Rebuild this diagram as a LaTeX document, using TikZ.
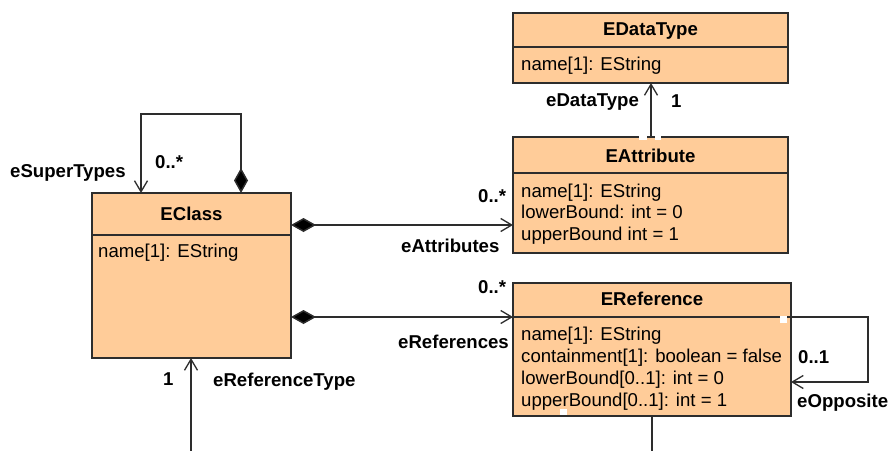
\documentclass[tikz,border=0pt]{standalone}
\usepackage{fontspec}
\setmainfont{Liberation Sans}
\usetikzlibrary{arrows.meta}
\definecolor{boxfill}{RGB}{255,204,153}
\definecolor{linec}{RGB}{45,45,45}
\begin{document}
\begin{tikzpicture}[x=1pt,y=-1pt,
  font=\fontsize{18.6}{22}\selectfont,
  umlbox/.style={draw=linec, line width=1.8pt, fill=boxfill, anchor=north west, inner sep=0pt, outer sep=0pt},
  divider/.style={draw=linec, line width=1.8pt},
  hdr/.style={font=\fontsize{18.6}{22}\selectfont\bfseries, anchor=base, inner sep=0pt},
  attr/.style={anchor=base west, inner sep=0pt},
  lbl/.style={font=\fontsize{18.6}{22}\selectfont\bfseries, anchor=base west, inner sep=0pt},
  conn/.style={draw=linec, line width=1.5pt},
  nav/.style={-{Straight Barb[length=11pt,width=13pt,line width=1.3pt]}},
  compnav/.style={{Diamond[length=25pt,width=14pt,fill=black]}-{Straight Barb[length=11pt,width=13pt,line width=1.3pt]}},
  gapmark/.style={fill=white, draw=none}
]
\useasboundingbox[fill=white] (0,0) rectangle (890,450);

% ---- boxes ----
\node[umlbox, minimum width=199pt, minimum height=165pt] (ecl) at (92,193) {};
\draw[divider] (92,235) -- (291,235);
\node[hdr] (eclh) at (191.5,220) {EClass};
\node[attr] (ecla) at (98,257) {name[1]: EString};

\node[umlbox, minimum width=275pt, minimum height=70pt] (edt) at (513,13) {};
\draw[divider] (513,47) -- (788,47);
\node[hdr] (edth) at (650.5,35) {EDataType};
\node[attr] (edta) at (521,70.5) {name[1]: EString};

\node[umlbox, minimum width=275pt, minimum height=116pt] (eat) at (513,137) {};
\draw[divider] (513,173) -- (788,173);
\node[hdr] (eath) at (650.5,162) {EAttribute};
\node[attr] (eata1) at (521,197) {name[1]: EString};
\node[attr] (eata2) at (521,218.5) {lowerBound: int = 0};
\node[attr] (eata3) at (521,240) {upperBound int = 1};

\node[umlbox, minimum width=278pt, minimum height=133pt] (ere) at (513,283) {};
\draw[divider] (513,317) -- (791,317);
\node[hdr] (ereh) at (652,305) {EReference};
\node[attr] (erea1) at (521,340.5) {name[1]: EString};
\node[attr] (erea2) at (521,362.5) {containment[1]: boolean = false};
\node[attr] (erea3) at (521,384.5) {lowerBound[0..1]: int = 0};
\node[attr] (erea4) at (521,406.5) {upperBound[0..1]: int = 1};

% small white handles
\fill[gapmark] (780,316) rectangle (787,323);
\fill[gapmark] (560,409) rectangle (567,415);
\fill[gapmark] (639,135) rectangle (647,139.5);
\fill[gapmark] (655,135) rectangle (661,139.5);

% ---- connectors ----
\coordinate (slA) at (241,114);
\coordinate (slB) at (141,114);
\draw[conn, compnav] ([xshift=149pt]ecl.north west) -- (slA) -- (slB) -- ([xshift=49pt]ecl.north west);

\draw[conn, compnav] ([yshift=-32pt]ecl.north east) -- ([yshift=-88pt]eat.north west);
\draw[conn, compnav] ([yshift=-124pt]ecl.north east) -- ([yshift=-34pt]ere.north west);

\draw[conn, nav] ([xshift=138pt]eat.north west) -- ([xshift=138pt]edt.south west);

\coordinate (opA) at (868,317);
\coordinate (opB) at (868,382);
\draw[conn, nav] ([yshift=-34pt]ere.north east) -- (opA) -- (opB) -- ([yshift=-99pt]ere.north east);

\coordinate (reBot) at (652,452);
\draw[conn] ([xshift=139pt]ere.south west) -- (reBot);

\coordinate (clBot) at (191,452);
\draw[conn, nav] (clBot) -- ([xshift=99pt]ecl.south west);

% ---- labels ----
\node[lbl] (lsup) at (10,177) {eSuperTypes};
\node[lbl] (lsupm) at (155,168) {0..*};
\node[lbl] (latm) at (478,202) {0..*};
\node[lbl] (lat) at (401,252) {eAttributes};
\node[lbl] (lrem) at (478,293) {0..*};
\node[lbl] (lre) at (398,348) {eReferences};
\node[lbl] (lrtm) at (163,385) {1};
\node[lbl] (lrt) at (213,386) {eReferenceType};
\node[lbl] (lopm) at (798,363) {0..1};
\node[lbl] (lop) at (797,407) {eOpposite};
\node[lbl] (ldt) at (546,106) {eDataType};
\node[lbl] (ldtm) at (671,107) {1};
\end{tikzpicture}
\end{document}
